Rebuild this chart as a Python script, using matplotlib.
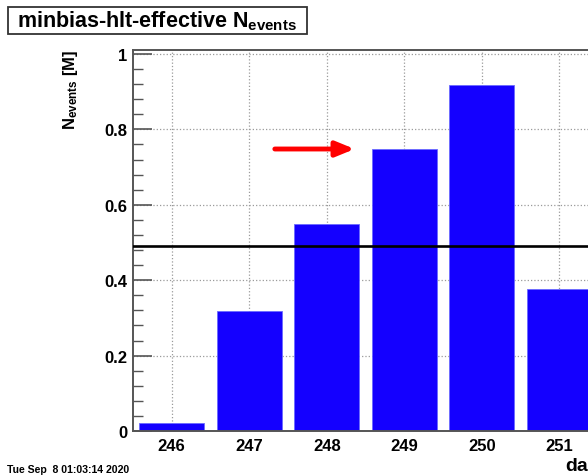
import matplotlib
matplotlib.use("Agg")
import matplotlib.pyplot as plt
from matplotlib.ticker import MultipleLocator, FixedLocator
from matplotlib.patches import Rectangle

plt.rcParams['font.family'] = ['Liberation Sans', 'DejaVu Sans']
plt.rcParams['mathtext.fontset'] = 'custom'
plt.rcParams['mathtext.rm'] = 'Liberation Sans'
plt.rcParams['mathtext.bf'] = 'Liberation Sans:bold'
plt.rcParams['mathtext.it'] = 'Liberation Sans:italic'

# ---- data ----
days = ['246', '247', '248', '249', '250', '251']
n_events = [0.021, 0.318, 0.549, 0.748, 0.918, 0.377]
mean_level = 0.49
arrow_target_day = 3  # index of '249'

W, H = 588, 477
fig = plt.figure(figsize=(W / 100, H / 100), dpi=100)

# axes extends past right edge (the reference is cropped)
left_px, bottom_px, top_px = 133, 432, 51
px_per_bin = 77.5
nbins_full = 7
ax = fig.add_axes([left_px / W, (H - bottom_px) / H,
                   nbins_full * px_per_bin / W, (bottom_px - top_px) / H])

x = list(range(len(days)))
ax.set_axisbelow(True)
ax.bar(x, n_events, width=0.84, color='#1400ff', edgecolor='#6a6aff',
       linewidth=0.6, zorder=2)
ax.axhline(mean_level, color='black', linewidth=1.9, zorder=3)

ax.set_xlim(-0.5, nbins_full - 0.5)
ax.set_ylim(0, 1.0106)
ax.xaxis.set_major_locator(FixedLocator(x + [len(days)]))
ax.set_xticklabels(days + [''])
ax.yaxis.set_minor_locator(MultipleLocator(0.04))
ax.set_yticks([0, 0.2, 0.4, 0.6, 0.8, 1.0])
ax.set_yticklabels(['0', '0.2', '0.4', '0.6', '0.8', '1'])

ax.grid(True, which='major', linestyle=':', color='#9a9a9a', linewidth=0.9)
ax.tick_params(axis='y', which='major', direction='in', length=14,
               width=1.2, color='#555555', labelsize=12, right=True, pad=4)
ax.tick_params(axis='y', which='minor', direction='in', length=7,
               width=1.0, color='#555555', right=True)
ax.tick_params(axis='x', which='major', length=0, labelsize=12, pad=5)
for lab in ax.get_xticklabels() + ax.get_yticklabels():
    lab.set_fontweight('bold')
for s in ax.spines.values():
    s.set_color('#555555')
    s.set_linewidth(1.4)

# red arrow pointing at bar 249
ty = n_events[arrow_target_day]
ax.annotate('', xy=(arrow_target_day - 0.64, ty), xytext=(arrow_target_day - 1.67, ty),
            arrowprops=dict(arrowstyle='-|>,head_length=1.1,head_width=0.45',
                            color='#ff0000', lw=3.5, shrinkA=0, shrinkB=0),
            zorder=4)

# title box
fig.patches.append(Rectangle((8 / W, (H - 35) / H), (307 - 8) / W, 27 / H,
                             transform=fig.transFigure, facecolor='white',
                             edgecolor='#333333', linewidth=1.3))
fig.text(157 / W, (H - 21) / H, r'minbias-hlt-effective N$_{\mathbf{events}}$',
         ha='center', va='center', fontsize=15.5, fontweight='bold')

# y label
fig.text(70 / W, (H - 50) / H, r'N$_{\mathbf{events}}$ [M]', rotation=90,
         ha='center', va='top', fontsize=12, fontweight='bold')

# x label (cropped, as in the reference)
fig.text(565 / W, (H - 467) / H, 'day', ha='left', va='center',
         fontsize=14, fontweight='bold')

# date stamp
fig.text(7 / W, (H - 470) / H, 'Tue Sep  8 01:03:14 2020', ha='left',
         va='center', fontsize=7.6, fontweight='bold')

fig.savefig('out.png', dpi=100)
